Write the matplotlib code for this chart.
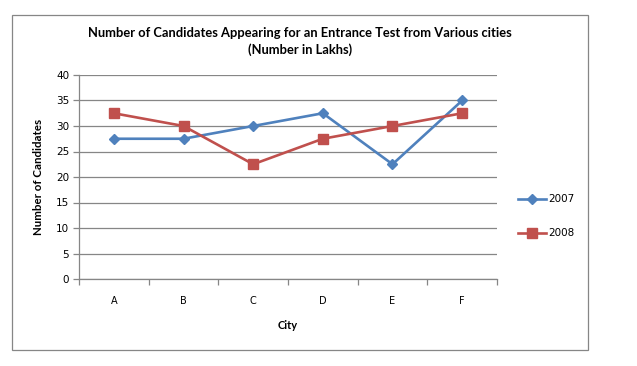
import matplotlib.pyplot as plt
from matplotlib.patches import Rectangle
from matplotlib.lines import Line2D
import numpy as np

# Data
cities = ["A", "B", "C", "D", "E", "F"]
y2007 = [27.5, 27.5, 30, 32.5, 22.5, 35]
y2008 = [32.5, 30, 22.5, 27.5, 30, 32.5]
yticks = [0, 5, 10, 15, 20, 25, 30, 35, 40]

BLUE = "#4F81BD"
RED = "#C0504D"
GRID = "#868686"
W, H = 637, 366

fig = plt.figure(figsize=(W / 100, H / 100), dpi=100)

# outer chart border
fig.patches.append(Rectangle((12 / W, 1 - 350 / H), 576 / W, 335 / H,
                             transform=fig.transFigure, fill=False,
                             edgecolor=GRID, linewidth=0.9))

ax = fig.add_axes([79 / W, 1 - 279 / H, 418 / W, 204 / H])
x = np.arange(len(cities))

ax.plot(x, y2007, color=BLUE, lw=1.9, marker="D", ms=5.5, label="2007", zorder=3)
ax.plot(x, y2008, color=RED, lw=1.9, marker="s", ms=6.5, label="2008", zorder=3)

ax.set_xlim(-0.5, len(cities) - 0.5)
ax.set_ylim(0, 40)
ax.set_yticks(yticks)
ax.yaxis.grid(True, color=GRID, lw=0.9)
ax.set_axisbelow(True)

ax.set_xticks(np.arange(-0.5, len(cities), 1.0))
ax.set_xticklabels([])
ax.set_xticks(x, minor=True)
ax.set_xticklabels(cities, minor=True, fontsize=7, family="DejaVu Sans")
ax.tick_params(axis="x", which="major", length=4, color=GRID, width=0.9)
ax.tick_params(axis="x", which="minor", length=0, pad=12)
ax.tick_params(axis="y", length=4, color=GRID, width=0.9, labelsize=7.5, pad=3)

for s in ["top", "right"]:
    ax.spines[s].set_visible(False)
for s in ["left", "bottom"]:
    ax.spines[s].set_color(GRID)
    ax.spines[s].set_linewidth(0.9)

ax.set_xlabel("City", fontsize=8, fontweight="bold", family="Lato", labelpad=10)
ax.set_ylabel("Number of Candidates", fontsize=8.3, fontweight="bold", family="Lato", labelpad=9)

fig.text(300 / W, 1 - 33 / H, "Number of Candidates Appearing for an Entrance Test from Various cities",
         ha="center", va="center", fontsize=9.3, fontweight="bold", family="Lato")
fig.text(300 / W, 1 - 50 / H, "(Number in Lakhs)",
         ha="center", va="center", fontsize=9.3, fontweight="bold", family="Lato")

# legend
for yy, col, mk, ms, lab in [(199, BLUE, "D", 5.5, "2007"), (233, RED, "s", 6.5, "2008")]:
    fig.add_artist(Line2D([518 / W, 546 / W], [1 - yy / H] * 2, transform=fig.transFigure,
                          color=col, lw=1.9))
    fig.add_artist(Line2D([532 / W], [1 - yy / H], transform=fig.transFigure,
                          color=col, marker=mk, ms=ms, lw=0))
    fig.text(548 / W, 1 - yy / H, lab, ha="left", va="center", fontsize=7.5, family="DejaVu Sans")

fig.savefig("out.png", dpi=100)
